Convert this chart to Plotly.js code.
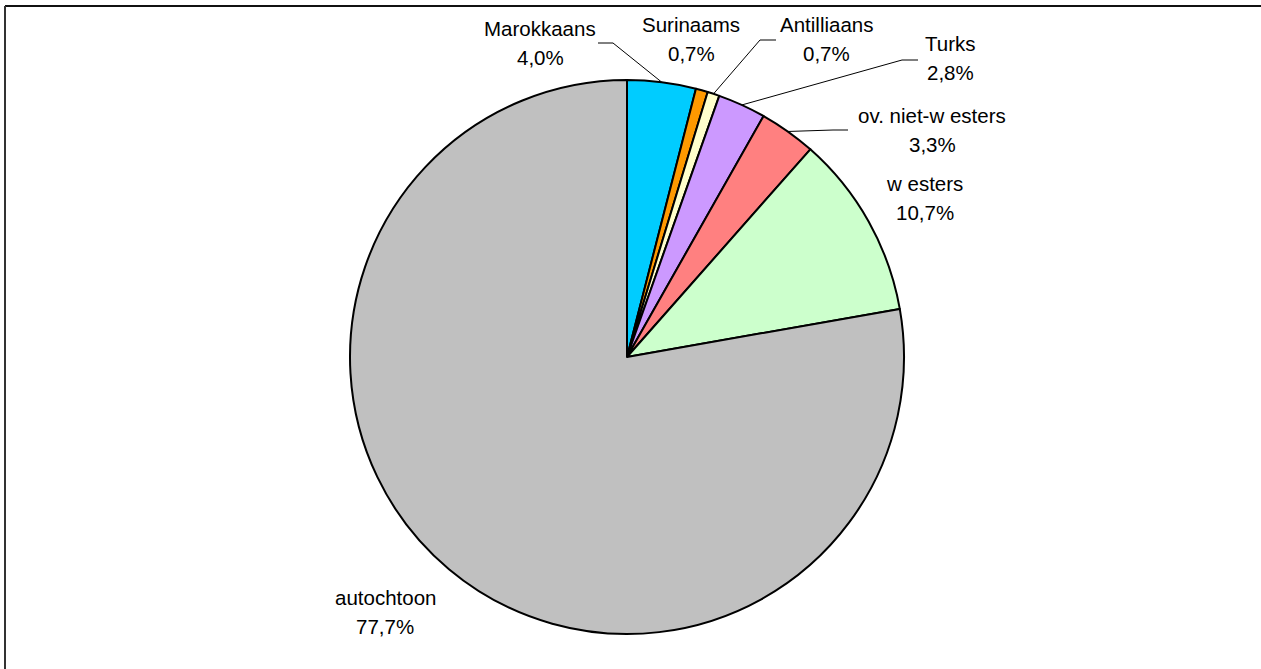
<!DOCTYPE html>
<html>
<head>
<meta charset="utf-8">
<script src="https://cdn.plot.ly/plotly-3.0.1.min.js"></script>
<style>html,body{margin:0;padding:0;background:#fff;}#chart{width:1261px;height:669px;}</style>
</head>
<body>
<div id="chart"></div>
<script>
// ---- data ----
const categories = ["Marokkaans", "Surinaams", "Antilliaans", "Turks", "ov. niet-w esters", "w esters", "autochtoon"];
const values = [4.0, 0.7, 0.7, 2.8, 3.3, 10.7, 77.7];
const valueLabels = ["4,0%", "0,7%", "0,7%", "2,8%", "3,3%", "10,7%", "77,7%"];
const colors = ["#00CCFF", "#FF9900", "#FFFFCC", "#CC99FF", "#FF8080", "#CCFFCC", "#C0C0C0"];

// ---- layout config (pixels) ----
const W = 1261, H = 669;
const CX = 627, CY = 357, R = 277;
// label centre positions [x, y] in px
const labelPos = [[540, 43], [691, 39], [826, 39], [950, 58], [932, 130], [925, 198], [385, 612]];
// leader lines: label-side anchor [xStart, xKnee, y] or null
const leaders = [[598, 613, 43], null, [776, 760, 40], [918, 902, 60], [848, 833, 130], null, null];
const lineGap = 29.5;
const fontSize = 20.5;

const px = x => x / W;
const py = y => 1 - y / H;

const total = values.reduce((a, b) => a + b, 0);
const annotations = [];
const shapes = [];
let cum = 0;
values.forEach((v, i) => {
  const mid = (cum + v / 2) / total * 2 * Math.PI;
  cum += v;
  const [lx, ly] = labelPos[i];
  annotations.push({xref: 'paper', yref: 'paper', x: px(lx), y: py(ly - lineGap / 2), text: categories[i],
    showarrow: false, xanchor: 'center', yanchor: 'middle', font: {family: 'Liberation Sans, Arial, sans-serif', size: fontSize, color: '#000'}});
  annotations.push({xref: 'paper', yref: 'paper', x: px(lx), y: py(ly + lineGap / 2), text: valueLabels[i],
    showarrow: false, xanchor: 'center', yanchor: 'middle', font: {family: 'Liberation Sans, Arial, sans-serif', size: fontSize, color: '#000'}});
  const L = leaders[i];
  if (L) {
    const rx = CX + R * Math.sin(mid), ry = CY - R * Math.cos(mid);
    shapes.push({type: 'path', xref: 'paper', yref: 'paper',
      path: `M ${px(L[0])} ${py(L[2])} L ${px(L[1])} ${py(L[2])} L ${px(rx)} ${py(ry)}`,
      line: {color: '#000', width: 1}});
  }
});
// frame (top and left edges visible)
shapes.push({type: 'line', xref: 'paper', yref: 'paper', x0: px(5), y0: py(6), x1: 1.01, y1: py(6), line: {color: '#111', width: 2}});
shapes.push({type: 'line', xref: 'paper', yref: 'paper', x0: px(5), y0: py(6), x1: px(5), y1: -0.01, line: {color: '#333', width: 2}});

const trace = {
  type: 'pie',
  labels: categories,
  values: values,
  sort: false,
  direction: 'clockwise',
  rotation: 0,
  textinfo: 'none',
  hoverinfo: 'label+percent',
  marker: {colors: colors, line: {color: '#000', width: 2}},
  domain: {x: [px(CX - R), px(CX + R)], y: [py(CY + R), py(CY - R)]},
  showlegend: false
};

Plotly.newPlot('chart', [trace], {
  width: W, height: H,
  margin: {l: 0, r: 0, t: 0, b: 0},
  paper_bgcolor: '#fff', plot_bgcolor: '#fff',
  showlegend: false,
  annotations: annotations,
  shapes: shapes
}, {displayModeBar: false, staticPlot: true});
</script>
</body>
</html>
